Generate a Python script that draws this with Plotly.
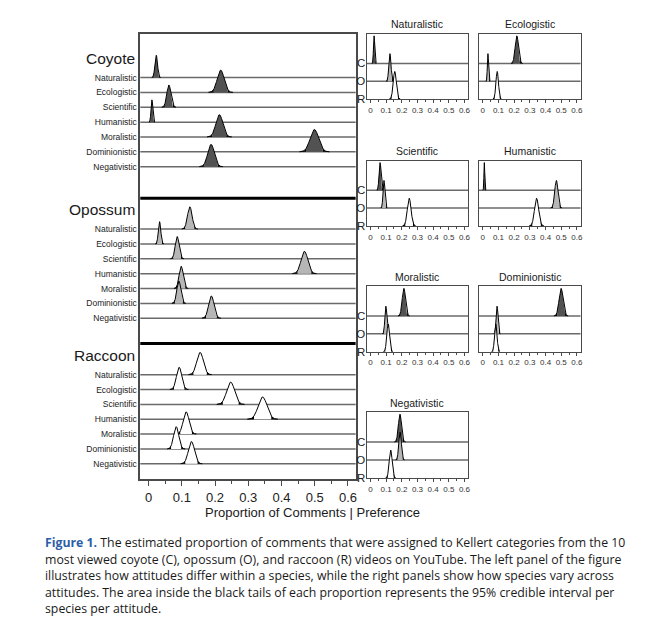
import numpy as np
import plotly.graph_objects as go

# ---------------- data ----------------
categories = ["Naturalistic", "Ecologistic", "Scientific", "Humanistic",
              "Moralistic", "Dominionistic", "Negativistic"]
species = ["Coyote", "Opossum", "Raccoon"]
species_codes = ["C", "O", "R"]

coyote_mean = [0.023, 0.217, 0.061, 0.010, 0.213, 0.499, 0.188]
coyote_sd = [0.0039, 0.0106, 0.0062, 0.0026, 0.0106, 0.0129, 0.0101]
opossum_mean = [0.124, 0.033, 0.086, 0.469, 0.098, 0.091, 0.189]
opossum_sd = [0.0069, 0.0037, 0.0058, 0.0104, 0.0062, 0.0060, 0.0082]
raccoon_mean = [0.155, 0.092, 0.247, 0.343, 0.113, 0.083, 0.129]
raccoon_sd = [0.0100, 0.0080, 0.0120, 0.0132, 0.0088, 0.0077, 0.0093]

x_tick_vals = [0, 0.1, 0.2, 0.3, 0.4, 0.5, 0.6]
x_tick_text = ["0", "0.1", "0.2", "0.3", "0.4", "0.5", "0.6"]
x_title = "Proportion of Comments | Preference"

caption_lines = [
    "<b><span style='color:#2c5ea8'>Figure 1.</span></b> The estimated proportion of comments that were assigned to Kellert categories from the 10",
    "most viewed coyote (C), opossum (O), and raccoon (R) videos on YouTube. The left panel of the figure",
    "illustrates how attitudes differ within a species, while the right panels show how species vary across",
    "attitudes. The area inside the black tails of each proportion represents the 95% credible interval per",
    "species per attitude.",
]

means = {"Coyote": coyote_mean, "Opossum": opossum_mean, "Raccoon": raccoon_mean}
sds = {"Coyote": coyote_sd, "Opossum": opossum_sd, "Raccoon": raccoon_sd}

# ---------------- style / layout ----------------
OFF = 8                      # default page body margin
W, H = 663 - 2 * OFF, 641 - 2 * OFF
FONT = "Liberation Sans, Arial, sans-serif"
fills = {"Coyote": "#525252", "Opossum": "#b6b6b6", "Raccoon": "#ffffff"}
LINE_GRAY = "#6a6a6a"
FRAME = "#4a4a4a"
XR = [-0.025, 0.623]


def px(x):
    return (x - OFF) / W


def py(y):
    return 1 - (y - OFF) / H


fig = go.Figure()


def add_curve(mu, sd, base, height, fill, xa, ya):
    zl = np.linspace(-3.5, -1.96, 25)
    zr = np.linspace(1.96, 3.5, 25)
    zc = np.linspace(-1.96, 1.96, 61)
    za = np.linspace(-3.5, 3.5, 141)

    def poly(z):
        xs = list(mu + z * sd) + [mu + z[-1] * sd, mu + z[0] * sd]
        ys = list(base + height * np.exp(-0.5 * z ** 2)) + [base, base]
        return xs, ys

    lx, ly = poly(zl)
    rx, ry = poly(zr)
    cx, cy = poly(zc)
    common = dict(xaxis=xa, yaxis=ya, mode="lines", hoverinfo="skip", showlegend=False)
    fig.add_trace(go.Scatter(x=lx + [None] + rx, y=ly + [None] + ry, fill="toself",
                             fillcolor="black", line=dict(width=0, color="black"), **common))
    fig.add_trace(go.Scatter(x=cx, y=cy, fill="toself", fillcolor=fill,
                             line=dict(width=0, color=fill), **common))
    fig.add_trace(go.Scatter(x=mu + za * sd, y=base + height * np.exp(-0.5 * za ** 2),
                             line=dict(width=1, color="black"), **common))


shapes = []
annotations = []

# ---------------- left panel ----------------
species_base = {"Coyote": 21.05, "Opossum": 10.85, "Raccoon": 1.05}
separators = [18.93, 9.15]
LEFT_H = 1.5

tickvals, ticktext = [], []
for s in species:
    for k, c in enumerate(categories):
        yb = species_base[s] + (6 - k)
        tickvals.append(yb)
        ticktext.append(c)
        shapes.append(dict(type="line", xref="x domain", yref="y", x0=0, x1=1, y0=yb, y1=yb,
                           line=dict(color=LINE_GRAY, width=1.5), layer="below"))
for yv in separators:
    shapes.append(dict(type="line", xref="x domain", yref="y", x0=0, x1=1, y0=yv, y1=yv,
                       line=dict(color="black", width=3), layer="above"))

for s in species:
    for k in range(len(categories)):
        yb = species_base[s] + (6 - k)
        add_curve(means[s][k], sds[s][k], yb, LEFT_H, fills[s], "x", "y")

label_y = {"Coyote": 59.3, "Opossum": 211.7, "Raccoon": 359}
for s in species:
    annotations.append(dict(text=s, xref="paper", yref="paper", x=px(137.5), y=py(label_y[s]),
                            xanchor="right", yanchor="middle", showarrow=False,
                            font=dict(size=15.5, family=FONT, color="#1a1a1a")))

fig.update_layout(
    xaxis=dict(domain=[px(140.7), px(356.7)], range=XR, tickvals=x_tick_vals, ticktext=x_tick_text,
               ticks="outside", ticklen=5, tickcolor=FRAME, showline=True, linecolor=FRAME,
               linewidth=1.5, mirror=True, showgrid=False, zeroline=False,
               tickfont=dict(size=13, family=FONT, color="#222"),
               minor=dict(dtick=0.05, tick0=0, ticks="outside", ticklen=3, tickcolor=FRAME)),
    yaxis=dict(domain=[py(484), py(34)], range=[0, 30], tickvals=tickvals, ticktext=ticktext,
               ticks="", showline=True, linecolor=FRAME, linewidth=1.5, mirror=True,
               showgrid=False, zeroline=False,
               tickfont=dict(size=8.5, family=FONT, color="#222")),
)

# ---------------- right panels ----------------
col_x = [(367.7, 469.5), (480.3, 582.3)]
row_y = [(34, 100), (162, 228), (289, 355), (416, 482.5)]
RIGHT_H = 1.55
RY = [0, 66 / 18]

for i, c in enumerate(categories):
    n = i + 2
    r, col = divmod(i, 2)
    xa, ya = f"x{n}", f"y{n}"
    x0, x1 = col_x[col]
    ytop, ybot = row_y[r]
    fig.update_layout(**{
        f"xaxis{n}": dict(domain=[px(x0), px(x1)], range=XR, anchor=ya, tickvals=x_tick_vals,
                          ticktext=x_tick_text, ticks="outside", ticklen=3, tickcolor=FRAME,
                          showline=True, linecolor=FRAME, linewidth=1.2, mirror=True,
                          showgrid=False, zeroline=False,
                          tickfont=dict(size=8, family=FONT, color="#333"),
                          minor=dict(dtick=0.05, tick0=0, ticks="outside", ticklen=2, tickcolor=FRAME)),
        f"yaxis{n}": dict(domain=[py(ybot), py(ytop)], range=RY, anchor=xa,
                          tickvals=[2, 1, 0], ticktext=species_codes,
                          showticklabels=(col == 0), ticks="", ticklabelstandoff=-2,
                          showline=True, linecolor=FRAME, linewidth=1.2, mirror=True,
                          showgrid=False, zeroline=False,
                          tickfont=dict(size=11.5, family=FONT, color="#222")),
    })
    for yb in (1, 2):
        shapes.append(dict(type="line", xref=f"{xa} domain", yref=ya, x0=0, x1=1, y0=yb, y1=yb,
                           line=dict(color=LINE_GRAY, width=1.5), layer="below"))
    for j, s in enumerate(species):
        add_curve(means[s][i], sds[s][i], 2 - j, RIGHT_H, fills[s], xa, ya)
    annotations.append(dict(text=c, xref=f"{xa} domain", yref="paper", x=0.5,
                            y=py(ytop - 9.5), xanchor="center", yanchor="middle", showarrow=False,
                            font=dict(size=10.5, family=FONT, color="#1a1a1a")))

# ---------------- texts ----------------
annotations.append(dict(text=x_title, xref="paper", yref="paper", x=px(313), y=py(517),
                        xanchor="center", yanchor="middle", showarrow=False,
                        font=dict(size=13, family=FONT, color="#1a1a1a")))
caption_y = [548, 565, 581.5, 598, 614.5]
for line, yl in zip(caption_lines, caption_y):
    annotations.append(dict(text=line, xref="paper", yref="paper",
                            x=px(43), y=py(yl), xanchor="left", yanchor="middle", align="left",
                            showarrow=False, font=dict(size=12.3, family="Open Sans, sans-serif",
                                                       color="#1a1a1a")))

fig.update_layout(width=W, height=H, margin=dict(l=0, r=0, t=0, b=0),
                  paper_bgcolor="white", plot_bgcolor="white",
                  shapes=shapes, annotations=annotations, showlegend=False)

fig.write_html("out.html")
